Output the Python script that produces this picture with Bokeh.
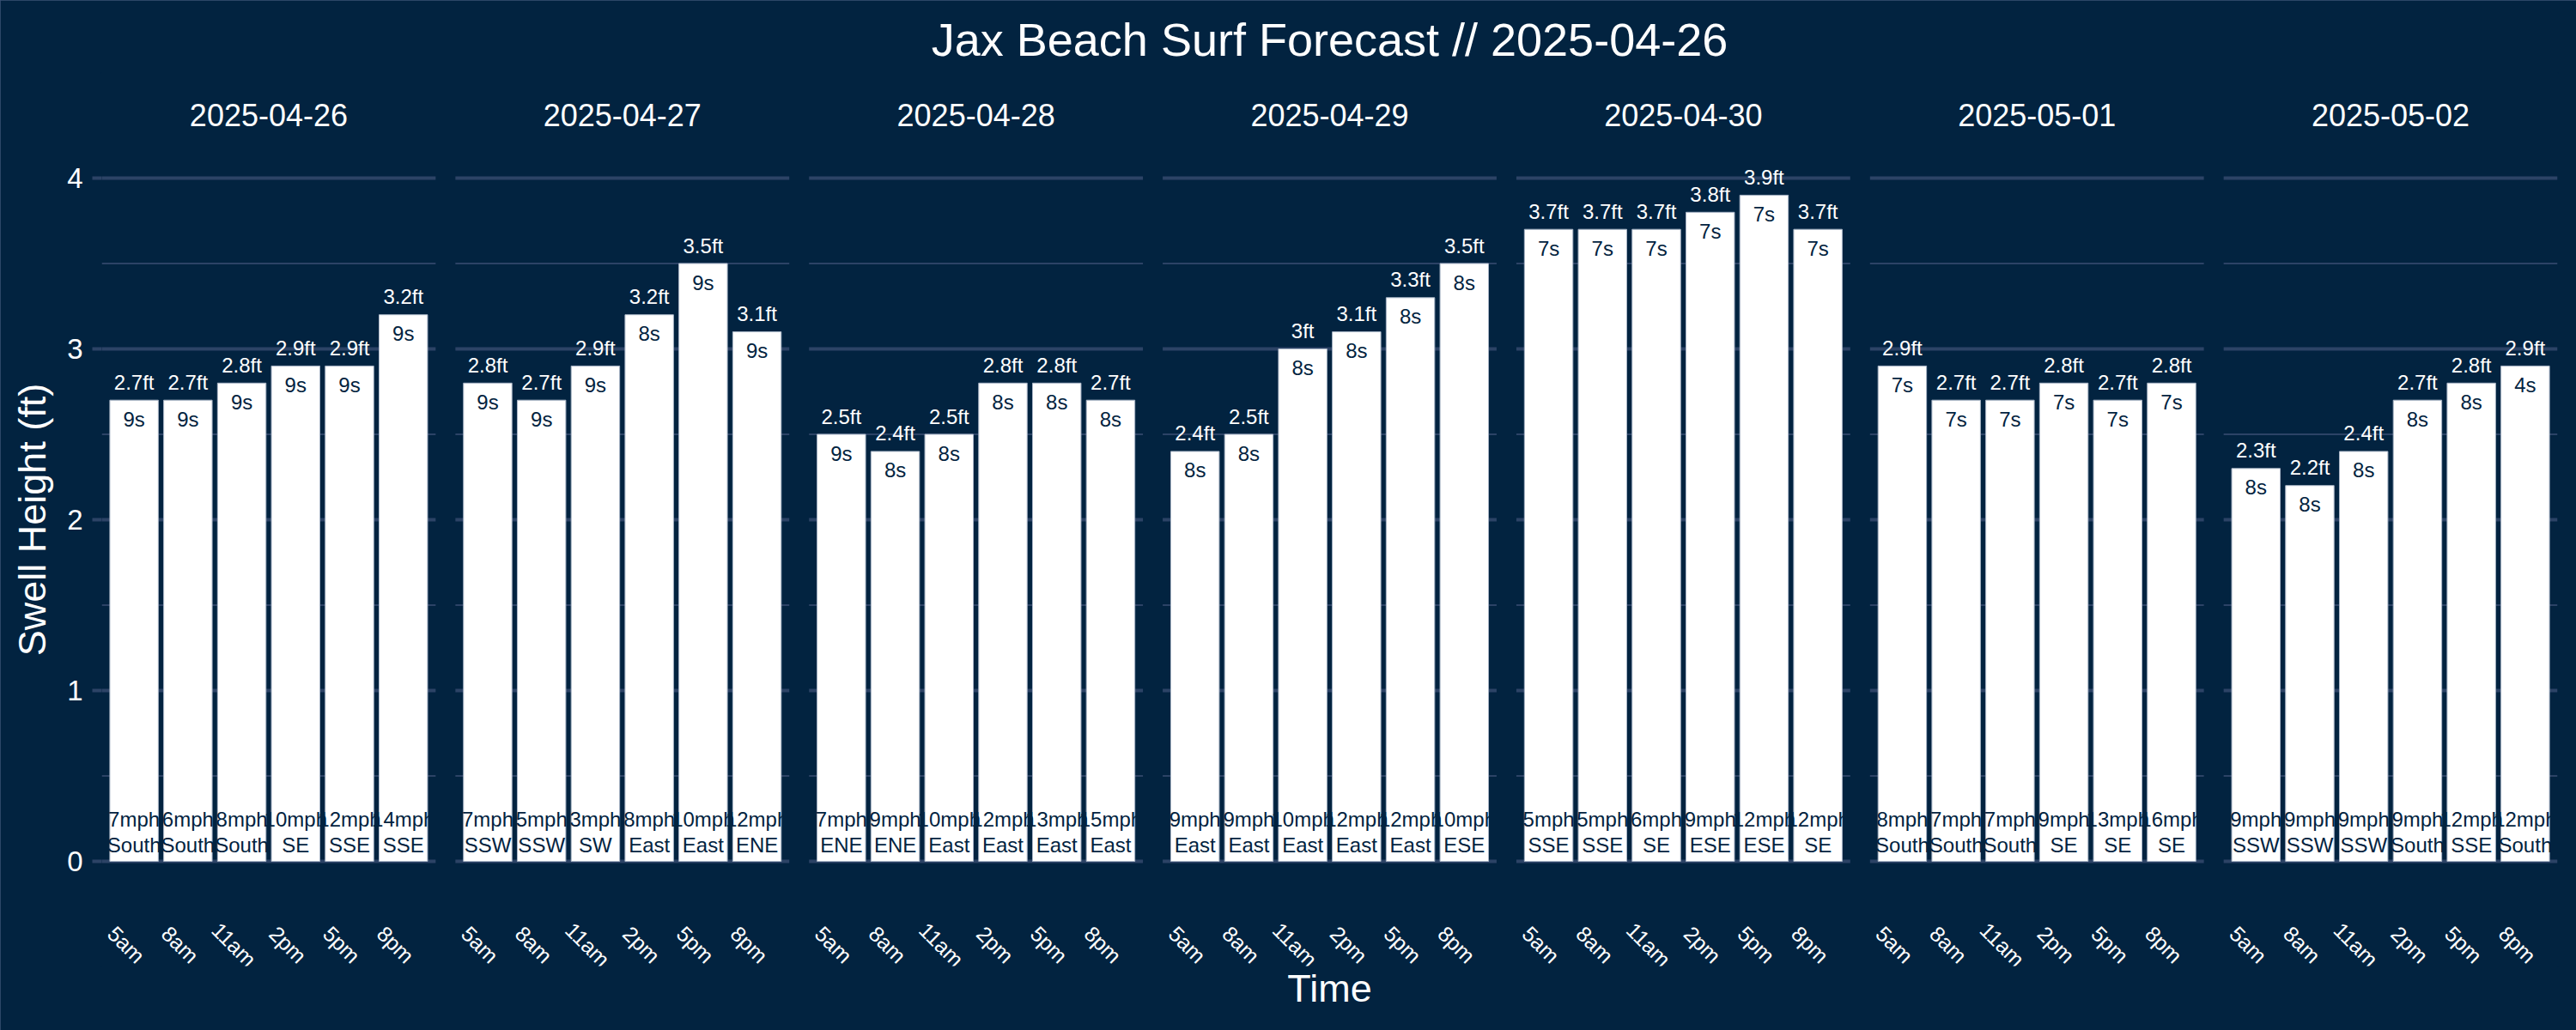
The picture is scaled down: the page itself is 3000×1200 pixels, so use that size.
import math
from bokeh.plotting import figure
from bokeh.models import ColumnDataSource, Range1d, FixedTicker
from bokeh.core.properties import value
from bokeh.embed import file_html
from bokeh.resources import INLINE

# ---------------- data ----------------
dates = ["2025-04-26", "2025-04-27", "2025-04-28", "2025-04-29",
         "2025-04-30", "2025-05-01", "2025-05-02"]
times = ["5am", "8am", "11am", "2pm", "5pm", "8pm"]

swell_ft = [
    [2.7, 2.7, 2.8, 2.9, 2.9, 3.2],
    [2.8, 2.7, 2.9, 3.2, 3.5, 3.1],
    [2.5, 2.4, 2.5, 2.8, 2.8, 2.7],
    [2.4, 2.5, 3.0, 3.1, 3.3, 3.5],
    [3.7, 3.7, 3.7, 3.8, 3.9, 3.7],
    [2.9, 2.7, 2.7, 2.8, 2.7, 2.8],
    [2.3, 2.2, 2.4, 2.7, 2.8, 2.9],
]
period_s = [
    [9, 9, 9, 9, 9, 9],
    [9, 9, 9, 8, 9, 9],
    [9, 8, 8, 8, 8, 8],
    [8, 8, 8, 8, 8, 8],
    [7, 7, 7, 7, 7, 7],
    [7, 7, 7, 7, 7, 7],
    [8, 8, 8, 8, 8, 4],
]
wind_mph = [
    [7, 6, 8, 10, 12, 14],
    [7, 5, 3, 8, 10, 12],
    [7, 9, 10, 12, 13, 15],
    [9, 9, 10, 12, 12, 10],
    [5, 5, 6, 9, 12, 12],
    [8, 7, 7, 9, 13, 16],
    [9, 9, 9, 9, 12, 12],
]
wind_dir = [
    ["South", "South", "South", "SE", "SSE", "SSE"],
    ["SSW", "SSW", "SW", "East", "East", "ENE"],
    ["ENE", "ENE", "East", "East", "East", "East"],
    ["East", "East", "East", "East", "East", "ESE"],
    ["SSE", "SSE", "SE", "ESE", "ESE", "SE"],
    ["South", "South", "South", "SE", "SE", "SE"],
    ["SSW", "SSW", "SSW", "South", "SSE", "South"],
]

# ---------------- styling / layout ----------------
BG = "#022340"
GRID = "#2c4366"
FONT = value("Liberation Sans")
W, H = 3000, 1200
BORDER_L, BORDER_R, BORDER_T, BORDER_B = 118, 22, 85, 75
GAP_PX = 23
PX_PER_FT = 199.0
Y0_PX = 1003.0          # canvas row of y = 0
LBL = "24px"

n_days = len(dates)
n_cat = len(times)
span = n_cat + 0.2      # discrete axis with 0.6 expansion each side
frame_w = W - BORDER_L - BORDER_R
px_per_unit = (frame_w - (n_days - 1) * GAP_PX) / (n_days * span)
gap_u = GAP_PX / px_per_unit
step = span + gap_u
x_end = n_days * span + (n_days - 1) * gap_u

frame_top = BORDER_T
frame_bot = H - BORDER_B
y_hi = (Y0_PX - frame_top) / PX_PER_FT
y_lo = -(frame_bot - Y0_PX) / PX_PER_FT

def px_to_y(py):
    return (Y0_PX - py) / PX_PER_FT

p = figure(width=W, height=H, output_backend="svg", toolbar_location=None,
           x_range=Range1d(0, x_end), y_range=Range1d(y_lo, y_hi),
           min_border_left=BORDER_L, min_border_right=BORDER_R,
           min_border_top=BORDER_T, min_border_bottom=BORDER_B)
p.background_fill_color = BG
p.border_fill_color = BG
p.outline_line_color = BG
p.outline_line_width = 3
p.xgrid.visible = False
p.ygrid.visible = False
p.styles = {"outline": "2px solid #3b5375", "outline-offset": "-2px"}

p.title.text = "Jax Beach Surf Forecast // 2025-04-26"
p.title.align = "center"
p.title.text_color = "white"
p.title.text_font = "Liberation Sans"
p.title.text_font_size = "54px"
p.title.text_font_style = "normal"
p.title.standoff = 20

# y axis
p.yaxis.ticker = FixedTicker(ticks=[0, 1, 2, 3, 4])
p.yaxis.minor_tick_line_color = None
p.yaxis.axis_line_color = None
p.yaxis.major_tick_in = 0
p.yaxis.major_tick_out = 11
p.yaxis.major_tick_line_color = GRID
p.yaxis.major_tick_line_width = 4
p.yaxis.major_label_standoff = 11
p.yaxis.major_label_text_color = "white"
p.yaxis.major_label_text_font = "Liberation Sans"
p.yaxis.major_label_text_font_size = "33px"
p.yaxis.axis_label = "Swell Height (ft)"
p.yaxis.axis_label_text_color = "white"
p.yaxis.axis_label_text_font = "Liberation Sans"
p.yaxis.axis_label_text_font_size = "45px"
p.yaxis.axis_label_text_font_style = "normal"
p.yaxis.axis_label_standoff = 12

# x axis (labels drawn per panel as text)
p.xaxis.ticker = FixedTicker(ticks=[])
p.xaxis.axis_line_color = None
p.xaxis.major_tick_out = 0
p.xaxis.major_tick_in = 0
p.xaxis.minor_tick_line_color = None
p.xaxis.major_label_standoff = 0
p.xaxis.axis_label = "Time"
p.xaxis.axis_label_text_color = "white"
p.xaxis.axis_label_text_font = "Liberation Sans"
p.xaxis.axis_label_text_font_size = "45px"
p.xaxis.axis_label_text_font_style = "normal"
p.xaxis.axis_label_standoff = 0

# ---------------- gridlines per panel ----------------
maj = dict(x0=[], x1=[], y=[])
mnr = dict(x0=[], x1=[], y=[])
for k in range(n_days):
    a, b = k * step, k * step + span
    for v in range(0, 5):
        maj["x0"].append(a); maj["x1"].append(b); maj["y"].append(v)
    for v in range(0, 4):
        mnr["x0"].append(a); mnr["x1"].append(b); mnr["y"].append(v + 0.5)
p.segment(x0="x0", y0="y", x1="x1", y1="y", source=ColumnDataSource(mnr),
          line_color=GRID, line_width=2)
p.segment(x0="x0", y0="y", x1="x1", y1="y", source=ColumnDataSource(maj),
          line_color=GRID, line_width=4)

# ---------------- bars & labels ----------------
rows = dict(x=[], h=[], hl=[], hy=[], per=[], py=[], ws=[], wd=[], t=[])
for k in range(n_days):
    for j in range(n_cat):
        h = swell_ft[k][j]
        rows["x"].append(k * step + 0.6 + j)
        rows["h"].append(h)
        rows["hl"].append(f"{h:g}ft")
        rows["hy"].append(h + 21 / PX_PER_FT)
        rows["per"].append(f"{period_s[k][j]}s")
        rows["py"].append(h - 22 / PX_PER_FT)
        rows["ws"].append(f"{wind_mph[k][j]}mph")
        rows["wd"].append(wind_dir[k][j])
        rows["t"].append(times[j])
src = ColumnDataSource(rows)

p.vbar(x="x", top="h", bottom=0, width=0.9, source=src,
       fill_color="white", line_color="#a9b5c6", line_width=1)

txt = dict(text_font=FONT, text_align="center", text_baseline="middle")
p.text(x="x", y="hy", text="hl", source=src, text_color="white",
       text_font_size=LBL, **txt)
p.text(x="x", y="py", text="per", source=src, text_color=BG,
       text_font_size=LBL, **txt)
p.text(x="x", y=px_to_y(Y0_PX - 49), text="ws", source=src, text_color=BG,
       text_font_size=LBL, **txt)
p.text(x="x", y=px_to_y(Y0_PX - 19), text="wd", source=src, text_color=BG,
       text_font_size=LBL, **txt)

# rotated time labels
p.text(x="x", y=px_to_y(1100), text="t", source=src, text_color="white",
       text_font_size="25px", angle=-math.pi / 4, x_offset=-9, **txt)

# strip labels
strip = ColumnDataSource(dict(x=[k * step + span / 2 for k in range(n_days)],
                              d=dates))
p.text(x="x", y=px_to_y(133), text="d", source=strip, text_color="white",
       text_font_size="36px", **txt)

open("out.html", "w").write(file_html(p, INLINE))
